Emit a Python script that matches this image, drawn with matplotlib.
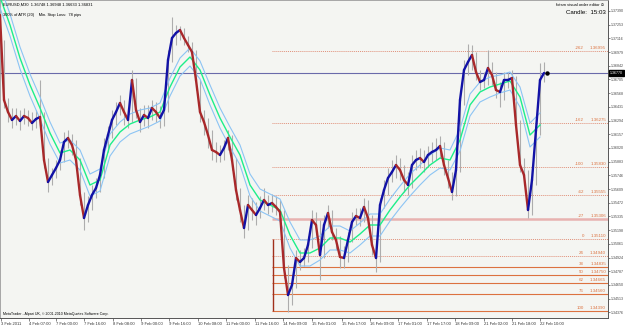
import numpy as np
import matplotlib.pyplot as plt
from matplotlib.collections import LineCollection

plt.rcParams['font.family'] = ['Liberation Sans Narrow', 'Liberation Sans', 'DejaVu Sans']

# EURUSD M30, sampled every 4 px of chart width
close = [
    1.3735, 1.3650, 1.3638, 1.3630, 1.3634, 1.3629, 1.3634, 1.3632,
    1.3627, 1.3631, 1.3633, 1.3590, 1.3568, 1.3575, 1.3582, 1.3590,
    1.3608, 1.3612, 1.3605, 1.3590, 1.3555, 1.3532, 1.3545, 1.3555,
    1.3562, 1.3575, 1.3600, 1.3615, 1.3630, 1.3638, 1.3647, 1.3638,
    1.3630, 1.3670, 1.3640, 1.3628, 1.3635, 1.3632, 1.3642, 1.3638,
    1.3632, 1.3640, 1.3690, 1.3712, 1.3717, 1.3720, 1.3712, 1.3705,
    1.3698, 1.3670, 1.3638, 1.3628, 1.3615, 1.3600, 1.3598, 1.3595,
    1.3602, 1.3612, 1.3590, 1.3560, 1.3540, 1.3522, 1.3545, 1.3540,
    1.3535, 1.3542, 1.3550, 1.3545, 1.3547, 1.3543, 1.3538, 1.3482,
    1.3455, 1.3465, 1.3492, 1.3488, 1.3492, 1.3505, 1.3530, 1.3525,
    1.3495, 1.3525, 1.3537, 1.3518, 1.3510, 1.3493, 1.3492, 1.3510,
    1.3528, 1.3534, 1.3532, 1.3543, 1.3532, 1.3505, 1.3492, 1.3545,
    1.3560, 1.3572, 1.3578, 1.3585, 1.3580, 1.3570, 1.3565, 1.3585,
    1.3590, 1.3592, 1.3588, 1.3595, 1.3598, 1.3600, 1.3604, 1.3585,
    1.3572, 1.3558, 1.3580, 1.3650, 1.3680, 1.3688, 1.3695, 1.3678,
    1.3668, 1.3670, 1.3682, 1.3675, 1.3660, 1.3658, 1.3670, 1.3670,
    1.3672, 1.3625, 1.3585, 1.3575, 1.3540, 1.3570, 1.3620, 1.3670,
    1.3677,
]
high = [
    1.3748, 1.3710, 1.3652, 1.3642, 1.3642, 1.3640, 1.3642, 1.3640,
    1.3638, 1.3640, 1.3670, 1.3638, 1.3592, 1.3582, 1.3590, 1.3600,
    1.3618, 1.3620, 1.3616, 1.3610, 1.3592, 1.3558, 1.3554, 1.3565,
    1.3572, 1.3585, 1.3612, 1.3624, 1.3640, 1.3648, 1.3655, 1.3650,
    1.3642, 1.3680, 1.3672, 1.3642, 1.3645, 1.3645, 1.3650, 1.3648,
    1.3644, 1.3650, 1.3700, 1.3733, 1.3725, 1.3724, 1.3722, 1.3714,
    1.3708, 1.3700, 1.3670, 1.3640, 1.3632, 1.3620, 1.3608, 1.3605,
    1.3610, 1.3620, 1.3615, 1.3592, 1.3562, 1.3545, 1.3555, 1.3552,
    1.3548, 1.3554, 1.3562, 1.3555, 1.3556, 1.3554, 1.3550, 1.3540,
    1.3485, 1.3475, 1.3500, 1.3500, 1.3502, 1.3514, 1.3540, 1.3538,
    1.3530, 1.3535, 1.3545, 1.3540, 1.3522, 1.3514, 1.3504, 1.3518,
    1.3538, 1.3542, 1.3542, 1.3552, 1.3550, 1.3535, 1.3510, 1.3552,
    1.3570, 1.3582, 1.3590, 1.3595, 1.3592, 1.3585, 1.3578, 1.3595,
    1.3600, 1.3602, 1.3600, 1.3604, 1.3608, 1.3612, 1.3614, 1.3608,
    1.3590, 1.3578, 1.3590, 1.3660, 1.3690, 1.3706, 1.3705, 1.3698,
    1.3680, 1.3678, 1.3700, 1.3688, 1.3678, 1.3668, 1.3678, 1.3678,
    1.3680, 1.3674, 1.3630, 1.3592, 1.3580, 1.3580, 1.3630, 1.3687,
    1.3688,
]
low = [
    1.3728, 1.3642, 1.3628, 1.3622, 1.3625, 1.3620, 1.3626, 1.3624,
    1.3620, 1.3622, 1.3625, 1.3582, 1.3558, 1.3565, 1.3572, 1.3580,
    1.3588, 1.3602, 1.3595, 1.3582, 1.3545, 1.3520, 1.3528, 1.3540,
    1.3552, 1.3558, 1.3572, 1.3598, 1.3612, 1.3625, 1.3635, 1.3625,
    1.3622, 1.3628, 1.3632, 1.3618, 1.3624, 1.3622, 1.3630, 1.3628,
    1.3622, 1.3624, 1.3638, 1.3688, 1.3705, 1.3710, 1.3705, 1.3698,
    1.3690, 1.3660, 1.3628, 1.3615, 1.3602, 1.3590, 1.3588, 1.3588,
    1.3590, 1.3600, 1.3580, 1.3550, 1.3528, 1.3512, 1.3520, 1.3530,
    1.3525, 1.3532, 1.3540, 1.3536, 1.3538, 1.3535, 1.3528, 1.3472,
    1.3438, 1.3445, 1.3462, 1.3480, 1.3484, 1.3488, 1.3502, 1.3515,
    1.3470, 1.3492, 1.3522, 1.3510, 1.3500, 1.3482, 1.3482, 1.3488,
    1.3508, 1.3525, 1.3524, 1.3528, 1.3522, 1.3495, 1.3478, 1.3488,
    1.3542, 1.3555, 1.3568, 1.3572, 1.3570, 1.3558, 1.3555, 1.3562,
    1.3580, 1.3582, 1.3578, 1.3584, 1.3588, 1.3590, 1.3592, 1.3575,
    1.3562, 1.3550, 1.3554, 1.3578, 1.3645, 1.3675, 1.3680, 1.3670,
    1.3660, 1.3662, 1.3665, 1.3665, 1.3652, 1.3643, 1.3650, 1.3662,
    1.3664, 1.3618, 1.3578, 1.3565, 1.3532, 1.3535, 1.3565, 1.3615,
    1.3668,
]

# moving average and ATR band, sampled every 10 px
ma_mid = [
    1.3753, 1.3725, 1.3692, 1.3665, 1.3642, 1.3617, 1.3597, 1.3600, 1.3590, 1.3565,
    1.3570, 1.3605, 1.3618, 1.3626, 1.3630, 1.3633, 1.3638, 1.3663, 1.3683, 1.3693,
    1.3680, 1.3655, 1.3632, 1.3613, 1.3595, 1.3565, 1.3550, 1.3545, 1.3540, 1.3515,
    1.3497, 1.3497, 1.3502, 1.3512, 1.3512, 1.3508, 1.3516, 1.3525, 1.3525, 1.3540,
    1.3553, 1.3565, 1.3575, 1.3585, 1.3592, 1.3590, 1.3610, 1.3645, 1.3658, 1.3663,
    1.3666, 1.3669, 1.3653, 1.3615, 1.3625,
]
ma_band = [
    0.0011, 0.0011, 0.0011, 0.0011, 0.0011, 0.0011, 0.0010, 0.0010, 0.0010, 0.0011,
    0.0011, 0.0011, 0.0010, 0.0010, 0.0010, 0.0009, 0.0009, 0.0009, 0.0009, 0.0009,
    0.0009, 0.0010, 0.0010, 0.0010, 0.0010, 0.0011, 0.0011, 0.0011, 0.0011, 0.0013,
    0.0013, 0.0013, 0.0012, 0.0012, 0.0012, 0.0011, 0.0011, 0.0011, 0.0011, 0.0011,
    0.0011, 0.0011, 0.0010, 0.0010, 0.0010, 0.0010, 0.0011, 0.0011, 0.0010, 0.0010,
    0.0009, 0.0009, 0.0010, 0.0012, 0.0012,
]

time_labels = ["3 Feb 2011", "4 Feb 07:00", "7 Feb 00:00", "7 Feb 16:00", "8 Feb 08:00",
               "9 Feb 00:00", "9 Feb 16:00", "10 Feb 08:00", "11 Feb 00:00", "11 Feb 16:00",
               "14 Feb 09:00", "15 Feb 01:00", "15 Feb 17:00", "16 Feb 09:00", "17 Feb 01:00",
               "17 Feb 17:00", "18 Feb 09:00", "21 Feb 02:00", "21 Feb 18:00", "22 Feb 10:00"]
time_pos = [1, 29, 56, 84, 113, 141, 169, 198, 226, 255, 283, 312, 342, 370, 398,
            427, 455, 484, 512, 540]

price_ticks = [1.37390, 1.37253, 1.37116, 1.36979, 1.36842, 1.36705, 1.36568, 1.36431,
               1.36294, 1.36157, 1.36020, 1.35883, 1.35746, 1.35609, 1.35472, 1.35335,
               1.35198, 1.35061, 1.34924, 1.34787, 1.34650, 1.34513, 1.34376]

fib_high, fib_low = 1.3511, 1.3439
fib_levels = [-261.8, -161.8, -100, -61.8, -27.2, 0, 23.6, 38.2, 50, 61.8, 76.4, 100]
fib_names = ["-262", "-162", "-100", "-62", "-27", "0", "24", "38", "50", "62", "76", "100"]

W, H = 625, 327
fig = plt.figure(figsize=(W / 100, H / 100), dpi=100)
fig.patch.set_facecolor('#ffffff')
ax = fig.add_axes([0, 9 / H, 608 / W, 318 / H])
ax.set_facecolor('#f4f5f2')

c = np.array(close)
bx = np.arange(len(c)) * 4.0
mx = np.arange(len(ma_mid)) * 10.0
mid = np.array(ma_mid)
bw = np.array(ma_band)

# fibonacci levels
orange = '#dc7240'
for lev, name in zip(fib_levels, fib_names):
    p = fib_high - lev / 100 * (fib_high - fib_low)
    if lev == -27.2:
        ax.hlines(p, 272, 608, color='#e8b2b0', lw=1.8, zorder=1)
    elif lev < 0 or lev in (0, 23.6):
        ax.hlines(p, 272, 608, color='#e0907a', lw=0.7, ls=(0, (1, 1)), zorder=1)
    else:
        ax.hlines(p, 272, 608, color=orange, lw=0.8, zorder=1)
    ax.text(584, p + 0.0001, name, ha='right', va='bottom', fontsize=3.2, color=orange)
    ax.text(606, p + 0.0001, f'{p:.5f}', ha='right', va='bottom', fontsize=3.2, color=orange)
ax.vlines(273, fib_low, fib_high, color='#a0301c', lw=1.0, zorder=1)

# bid line
ax.axhline(c[-1], color='#6a6aaa', lw=0.8, zorder=2)

# wicks
ax.vlines(bx, low, high, color='#adadad', lw=0.8, zorder=3)

# bands
ax.plot(mx, mid + bw, color='#8cc4f4', lw=0.8, zorder=4)
ax.plot(mx, mid - bw, color='#8cc4f4', lw=0.8, zorder=4)
ax.plot(mx, mid, color='#1eee8a', lw=1.0, zorder=4)

# candle bodies
segs = [[(bx[i - 1], c[i - 1]), (bx[i], c[i])] for i in range(1, len(c))]
cols = ['#1212a6' if c[i] >= c[i - 1] else '#a8282a' for i in range(1, len(c))]
ax.add_collection(LineCollection(segs, colors=cols, linewidths=1.7,
                                 capstyle='round', zorder=5))
ax.plot(bx[-1] + 3, c[-1], 'o', color='black', ms=2.2, zorder=6)

ax.set_xlim(0, 608)
ax.set_ylim(1.3750 - 0.0318, 1.3750)

ax.yaxis.tick_right()
ax.set_yticks(price_ticks)
ax.set_yticklabels([f'{t:.5f}' for t in price_ticks])
ax.set_xticks(time_pos)
ax.set_xticklabels(time_labels, ha='left')
ax.tick_params(axis='y', length=1.5, width=0.5, pad=0.5, labelsize=2.6,
               labelcolor='#444444', color='#555555')
ax.tick_params(axis='x', length=2, width=0.5, pad=1, labelsize=3.0,
               labelcolor='#333333', color='#555555')
for side in ('right', 'bottom'):
    ax.spines[side].set_color('#555555')
    ax.spines[side].set_linewidth(0.7)
for side in ('top', 'left'):
    ax.spines[side].set_color('#9a9a9a')
    ax.spines[side].set_linewidth(0.6)

# current price box
ax.text(1.003, c[-1], f'{c[-1]:.5f}', transform=ax.get_yaxis_transform(),
        ha='left', va='center', fontsize=2.6, color='white',
        bbox=dict(boxstyle='square,pad=0.2', fc='black', ec='black'))

fig.text(3 / W, 1 - 5 / H, 'EURUSD,M30  1.36748 1.36948 1.36633 1.36831',
         fontsize=2.9, va='center', ha='left', color='black')
fig.text(3 / W, 1 - 15 / H, '300% of ATR (20)    Min. Stop Loss:  78 pips',
         fontsize=2.9, va='center', ha='left', color='black')
fig.text(604 / W, 1 - 5 / H, 'fxtsm visual order editor \u2299',
         fontsize=3.0, va='center', ha='right', color='black')
fig.text(606 / W, 1 - 12 / H, 'Candle:  15:03',
         fontsize=4.4, va='center', ha='right', color='black')
fig.text(3 / W, 1 - 314 / H, 'MetaTrader - Alpari UK, \u00a9 2001-2010 MetaQuotes Software Corp.',
         fontsize=2.6, va='center', ha='left', color='black')

fig.savefig('out.png', dpi=100)
